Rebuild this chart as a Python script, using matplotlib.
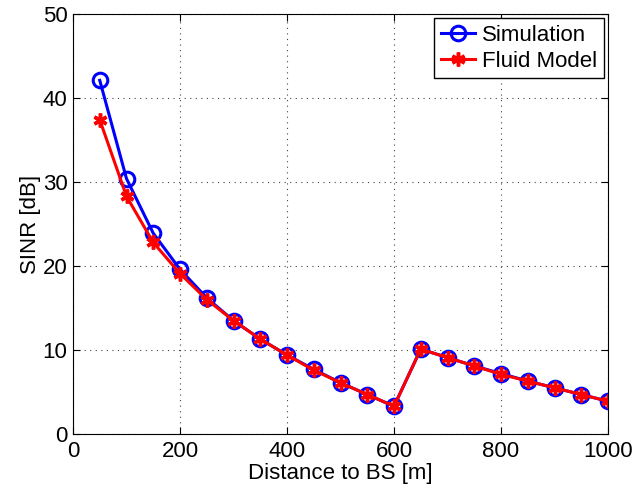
import matplotlib
matplotlib.use("Agg")
import matplotlib.pyplot as plt

# =========================
# DATA
# =========================

distance = [50, 100, 150, 200, 250, 300, 350, 400, 450, 500,
            550, 600, 650, 700, 750, 800, 850, 900, 950, 1000]

sinr_simulation = [42.1, 30.4, 23.9, 19.6, 16.2, 13.5, 11.3, 9.4, 7.7, 6.1,
                   4.7, 3.3, 10.1, 9.1, 8.1, 7.2, 6.3, 5.5, 4.7, 3.9]

sinr_fluid = [37.4, 28.3, 22.8, 19.1, 16.0, 13.5, 11.3, 9.4, 7.6, 6.1,
              4.7, 3.3, 10.1, 9.1, 8.1, 7.1, 6.3, 5.5, 4.7, 3.9]

x_ticks = [0, 200, 400, 600, 800, 1000]
y_ticks = [0, 10, 20, 30, 40, 50]

FONT_SIZE = 16


# =========================
# PLOT
# =========================

plt.rcParams['font.family'] = ['Liberation Sans', 'DejaVu Sans']

fig = plt.figure(figsize=(6.36, 4.93), dpi=100)
ax = fig.add_axes([73 / 636, 1 - 434 / 493, (608 - 73) / 636, (434 - 14) / 493])

ax.plot(distance, sinr_simulation, color='blue', linewidth=2.2,
        marker='o', markersize=10.5, markerfacecolor='none',
        markeredgewidth=2.2, label='Simulation')

ax.plot(distance, sinr_fluid, color='red', linewidth=2.2,
        marker=(6, 2, 0), markersize=10, markeredgewidth=2.5,
        label='Fluid Model')

ax.set_xlim(0, 1000)
ax.set_ylim(0, 50)
ax.set_xticks(x_ticks)
ax.set_yticks(y_ticks)

ax.grid(True, linestyle=(0, (1, 4)), color='#444444', linewidth=0.8)
ax.tick_params(direction='in', top=True, right=True, labelsize=FONT_SIZE,
               length=5, pad=4)
ax.tick_params(axis='x', pad=5)
for spine in ax.spines.values():
    spine.set_linewidth(0.8)

ax.set_xlabel('Distance to BS [m]', fontsize=FONT_SIZE, labelpad=1)
ax.set_ylabel('SINR [dB]', fontsize=FONT_SIZE, labelpad=1)

leg = ax.legend(loc='upper right', fontsize=FONT_SIZE, fancybox=False,
                framealpha=1, edgecolor='black', handlelength=1.55,
                borderaxespad=0.2, borderpad=0.3, labelspacing=0.2,
                handletextpad=0.3)
leg.get_frame().set_linewidth(1.0)

plt.savefig('out.png', dpi=100)
